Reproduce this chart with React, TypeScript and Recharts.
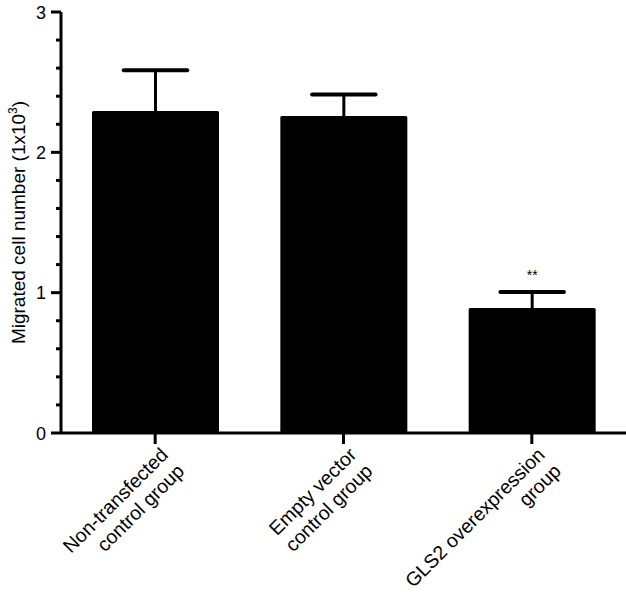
import React from 'react';
import { BarChart, Bar, XAxis, YAxis, LabelList } from 'recharts';

const categories = [
  ['Non-transfected', 'control group'],
  ['Empty vector', 'control group'],
  ['GLS2 overexpression', 'group'],
];
const means = [2.295, 2.259, 0.891];
const sems = [0.29, 0.154, 0.114];
const significance = ['', '', '**'];
const yTicks = [0, 0.2, 0.4, 0.6, 0.8, 1, 1.2, 1.4, 1.6, 1.8, 2, 2.2, 2.4, 2.6, 2.8, 3];

const data = categories.map((c, i) => ({
  name: c.join('\n'),
  value: means[i],
  sem: sems[i],
  sig: significance[i],
}));

const FONT = '"Liberation Sans", Arial, Helvetica, sans-serif';

const YTick = (props: any) => {
  const { x, y, payload } = props;
  const v = payload.value;
  const major = Math.abs(v - Math.round(v)) < 1e-6;
  return (
    <g>
      <line x1={x - (major ? 10 : 5)} x2={x} y1={y} y2={y} stroke="#000" strokeWidth={3} />
      {major && (
        <text x={x - 15} y={y} dy={6.5} textAnchor="end" fontSize={18} fontFamily={FONT} fill="#000">
          {Math.round(v)}
        </text>
      )}
    </g>
  );
};

const XTick = (props: any) => {
  const { x, y, payload } = props;
  const lines = String(payload.value).split('\n');
  const ax = x + 14;
  const ay = y + 23;
  return (
    <g>
      <line x1={x} x2={x} y1={y} y2={y + 11} stroke="#000" strokeWidth={3} />
      <g transform={`rotate(-45, ${ax}, ${ay})`}>
        {lines.map((l, i) => (
          <text key={i} x={ax} y={ay + i * 23} textAnchor="end" fontSize={19.5} fontFamily={FONT} fill="#000">
            {l}
          </text>
        ))}
      </g>
    </g>
  );
};

const BarWithError = (props: any) => {
  const { x, y, width, height, payload } = props;
  const perUnit = payload.value ? height / payload.value : 0;
  const top = y - payload.sem * perUnit;
  const cx = x + width / 2;
  const capHalf = width / 4;
  return (
    <g>
      <rect x={x} y={y} width={width} height={height} fill="#000" rx={1.5} />
      <line x1={cx} x2={cx} y1={y + 1} y2={top} stroke="#000" strokeWidth={3} />
      <line x1={cx - capHalf} x2={cx + capHalf} y1={top} y2={top} stroke="#000" strokeWidth={4} strokeLinecap="round" />
    </g>
  );
};

const SigLabel = (props: any) => {
  const { x, y, width, value } = props;
  if (!value) return null;
  return (
    <text x={x + width / 2} y={y - 28} textAnchor="middle" fontSize={14} fontFamily={FONT} fill="#000">
      {value}
    </text>
  );
};

const YLabel = (props: any) => {
  const vb = props.viewBox || {};
  const bx = 25;
  const cy = (vb.y ?? 12) + (vb.height ?? 421) / 2;
  return (
    <text
      x={bx}
      y={cy}
      transform={`rotate(-90, ${bx}, ${cy})`}
      textAnchor="middle"
      fontSize={19}
      fontFamily={FONT}
      fill="#000"
    >
      Migrated cell number (1x10
      <tspan fontSize={12} dy={-8}>3</tspan>
      <tspan dy={8}>)</tspan>
    </text>
  );
};

export default function App() {
  return (
    <div style={{ position: 'absolute', left: 0, top: 0, background: '#fff' }}>
      <BarChart
        width={626}
        height={597}
        data={data}
        margin={{ top: 12, right: 0, bottom: 0, left: 0 }}
        barSize={127}
      >
        <YAxis
          width={61}
          domain={[0, 3]}
          ticks={yTicks}
          interval={0}
          tickSize={0}
          tickMargin={0}
          tickLine={false}
          axisLine={{ stroke: '#000', strokeWidth: 3 }}
          tick={<YTick />}
          label={<YLabel />}
        />
        <XAxis
          dataKey="name"
          height={164}
          interval={0}
          tickSize={0}
          tickMargin={0}
          tickLine={false}
          axisLine={{ stroke: '#000', strokeWidth: 3 }}
          tick={<XTick />}
        />
        <Bar dataKey="value" fill="#000" isAnimationActive={false} shape={<BarWithError />}>
          <LabelList dataKey="sig" content={<SigLabel />} />
        </Bar>
      </BarChart>
    </div>
  );
}
